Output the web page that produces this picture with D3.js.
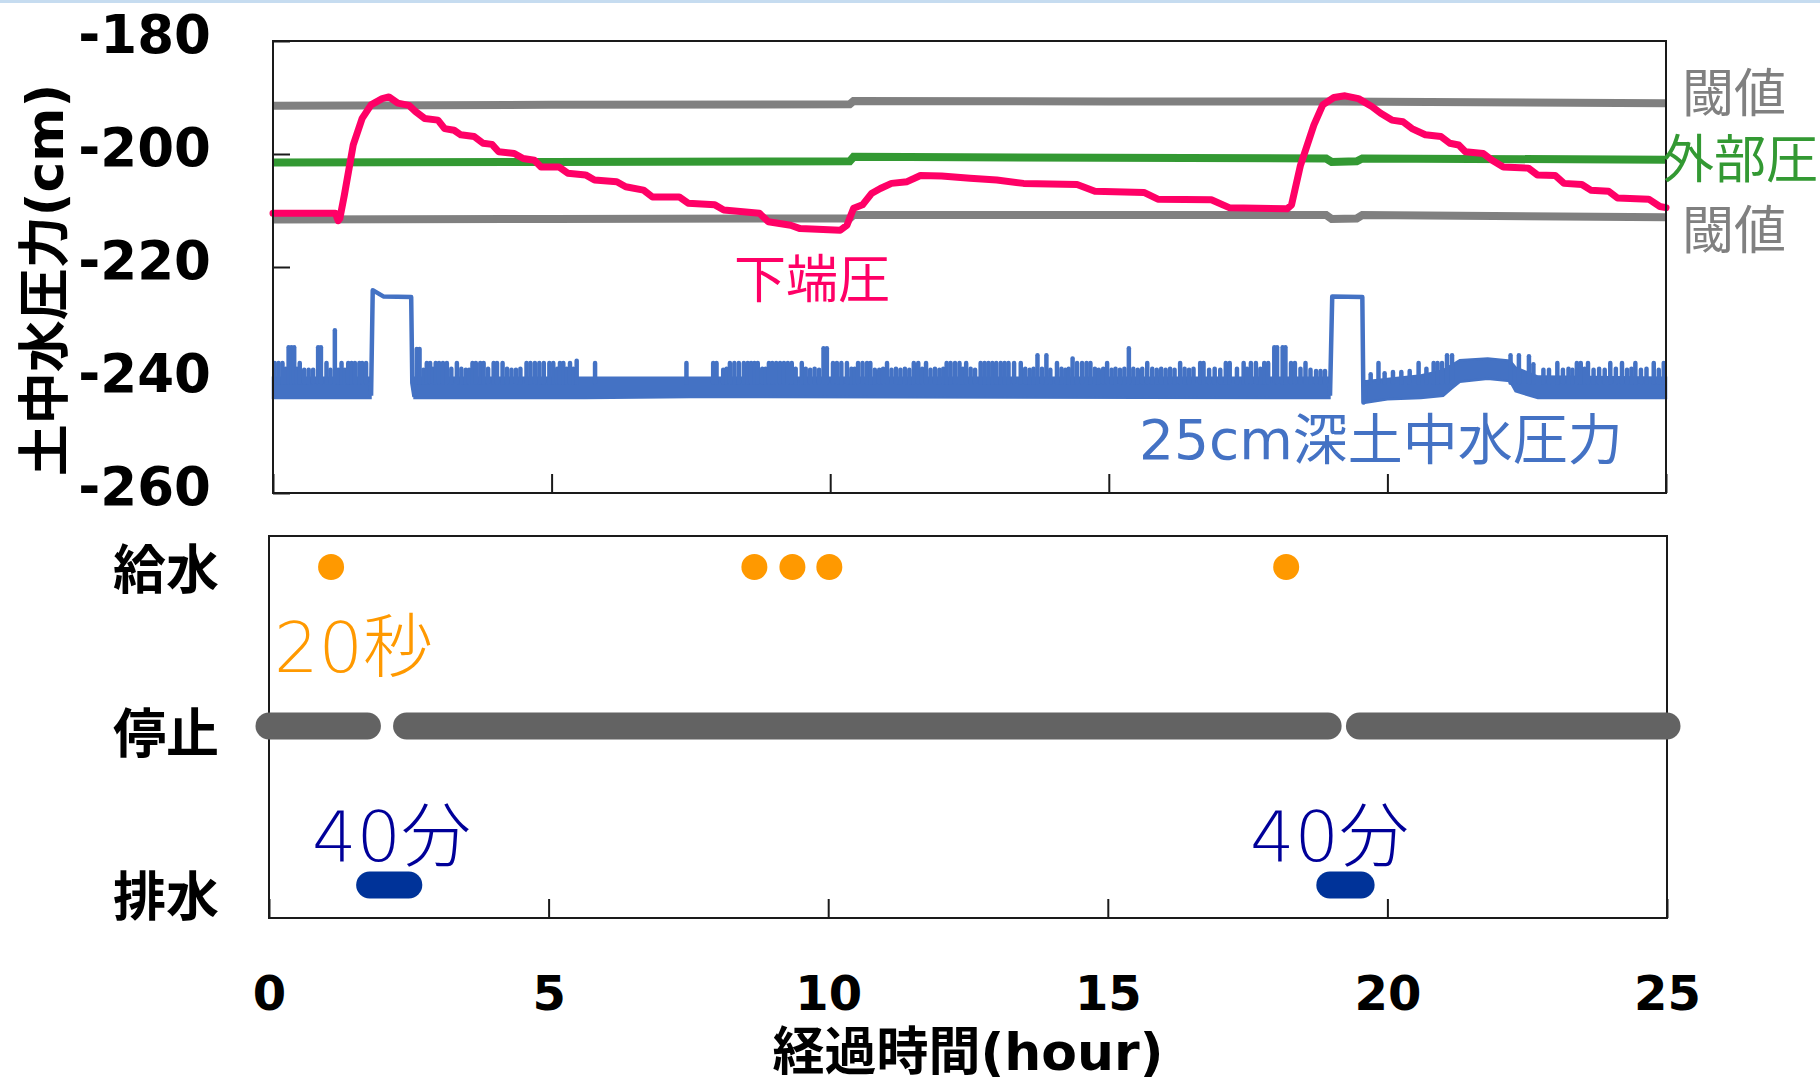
<!DOCTYPE html>
<html>
<head>
<meta charset="utf-8">
<script src="https://cdn.jsdelivr.net/npm/d3@7"></script>
<style>
  body { margin: 0; background: #fff; }
  svg { display: block; }
  text { font-family: "DejaVu Sans", "Noto Sans CJK JP", sans-serif; }
</style>
</head>
<body>
<svg id="chart" width="1820" height="1085"></svg>
<script>
// ---- data (hours, cm) ----
const yTickValues = [-260, -240, -220, -200, -180];
const yTickLabels = ["-260", "-240", "-220", "-200", "-180"];
const xTickValues = [0, 5, 10, 15, 20, 25];
const xTickLabels = ["0", "5", "10", "15", "20", "25"];
const eventRows = ["給水", "停止", "排水"];

// 閾値 (upper / lower) and 外部圧
const upperThreshold = [[0, -191.45], [5, -191.3], [10.35, -191.2], [10.42, -190.6], [15, -190.7], [19.0, -190.7], [25, -191.0]];
const lowerThreshold = [[0, -211.6], [5, -211.5], [10.35, -211.4], [10.42, -210.8], [18.9, -210.8], [19.0, -211.5], [19.45, -211.4], [19.55, -210.8], [25, -211.2]];
const outerPressure = [[0, -201.5], [5, -201.4], [10.35, -201.3], [10.42, -200.5], [18.9, -200.8], [19.0, -201.4], [19.45, -201.3], [19.55, -200.8], [25, -201.0]];

// 下端圧
const bottomPressure = [
  [0, -210.5], [1.12, -210.5], [1.17, -211.8], [1.2, -211.4], [1.28, -207.3], [1.44, -198.4], [1.6, -193.7],
  [1.76, -191.3], [1.96, -190.2], [2.08, -189.9], [2.24, -191.0], [2.44, -191.4], [2.56, -192.5], [2.72, -193.7],
  [2.96, -194.0], [3.08, -195.5], [3.25, -195.8], [3.37, -196.6], [3.61, -196.9], [3.77, -198.1], [3.93, -198.3],
  [4.05, -199.6], [4.33, -199.9], [4.49, -200.8], [4.69, -201.1], [4.81, -202.3], [5.13, -202.3], [5.29, -203.4],
  [5.61, -203.7], [5.77, -204.6], [6.17, -204.9], [6.33, -205.8], [6.65, -206.4], [6.81, -207.6], [7.29, -207.6],
  [7.45, -208.7], [7.93, -209.0], [8.09, -209.9], [8.73, -210.5], [8.89, -212.0], [9.29, -212.6], [9.46, -213.2],
  [10.18, -213.5], [10.3, -212.6], [10.42, -209.6], [10.58, -209.0], [10.74, -207.0], [10.9, -206.1], [11.1, -205.2],
  [11.38, -204.9], [11.62, -203.8], [12.0, -203.9], [12.51, -204.3], [12.99, -204.6], [13.47, -205.2], [14.43, -205.4],
  [14.75, -206.6], [15.63, -206.8], [15.88, -208.0], [16.84, -208.1], [17.16, -209.5], [18.2, -209.7], [18.28, -209.0],
  [18.44, -202.0], [18.68, -194.9], [18.84, -191.3], [19.04, -190.0], [19.24, -189.7], [19.48, -190.2], [19.72, -191.6],
  [19.88, -192.8], [20.08, -194.0], [20.28, -194.3], [20.44, -195.5], [20.68, -196.6], [20.96, -196.9], [21.12, -198.1],
  [21.28, -198.4], [21.4, -199.6], [21.72, -199.9], [21.88, -201.1], [22.08, -202.3], [22.53, -202.5], [22.69, -203.7],
  [23.01, -203.8], [23.17, -205.2], [23.49, -205.4], [23.65, -206.4], [23.97, -206.6], [24.13, -207.8], [24.69, -208.0],
  [24.89, -209.3], [25.0, -209.5]
];

// 25cm深土中水圧力: flicker band [t, top, bottom], drain steps, spikes
const soilBand = [
  [0, -239.6, -243.2], [1.75, -239.6, -243.2], [1.76, NaN, NaN],
  [2.53, NaN, NaN], [2.54, -239.6, -243.2], [5.6, -239.6, -243.2], [7.5, -239.6, -243.0], [18.96, -239.6, -243.2], [18.97, NaN, NaN],
  [19.6, NaN, NaN], [19.62, -240.2, -244.0], [20.0, -239.8, -243.4], [20.6, -239.2, -243.2], [21.0, -238.3, -242.8],
  [21.15, -237.4, -241.5], [21.3, -236.5, -240.3], [21.8, -236.2, -239.8], [22.2, -236.6, -240.2], [22.3, -237.8, -242.0],
  [22.7, -239.4, -243.2], [25, -239.6, -243.2]
];
const soilDrain1 = [[1.76, -242.8], [1.79, -224.1], [1.98, -225.2], [2.48, -225.3], [2.5, -240.5], [2.54, -243.0]];
const soilDrain2 = [[18.97, -242.8], [19.01, -225.2], [19.55, -225.3], [19.57, -244.0], [19.62, -241.0]];
const soilSpikes = [
  [0.03, -237], [0.1, -237], [0.17, -237], [0.23, -238], [0.28, -234.2], [0.33, -234.2], [0.38, -234.2], [0.43, -238],
  [0.48, -237], [0.56, -238.2], [0.64, -238.2], [0.72, -238.2], [0.81, -234.2], [0.86, -234.2], [0.96, -237], [1.03, -238.2],
  [1.11, -231.2], [1.17, -238.2], [1.23, -237], [1.29, -238.2], [1.35, -237], [1.41, -237], [1.47, -237], [1.55, -237],
  [1.6, -237], [1.67, -237],
  [2.58, -234.5], [2.63, -234.5], [2.7, -238.2], [2.76, -237], [2.82, -237], [2.87, -238], [2.92, -237], [2.98, -237],
  [3.05, -237], [3.12, -237], [3.2, -238], [3.3, -237], [3.38, -238], [3.46, -238.2], [3.52, -238.2], [3.58, -237],
  [3.64, -237], [3.72, -237], [3.78, -237], [3.86, -238], [3.96, -237], [4.02, -237], [4.12, -237], [4.2, -238],
  [4.28, -238.2], [4.36, -238.2], [4.44, -238], [4.55, -237], [4.62, -237], [4.7, -237], [4.78, -237], [4.86, -237],
  [4.96, -237], [5.03, -237], [5.1, -238], [5.15, -237], [5.21, -237], [5.27, -238], [5.33, -237], [5.39, -238],
  [5.45, -236.6], [5.78, -237], [7.42, -237], [7.9, -237], [7.96, -237], [8.08, -238.2], [8.14, -238], [8.2, -237],
  [8.28, -237], [8.36, -237], [8.45, -237], [8.52, -237], [8.58, -237], [8.64, -237], [8.7, -237], [8.78, -238],
  [8.84, -238], [8.9, -237], [8.96, -237], [9.03, -237], [9.1, -237], [9.17, -237], [9.24, -237], [9.31, -237],
  [9.38, -238], [9.49, -237], [9.56, -238], [9.64, -238.2], [9.72, -238], [9.8, -238.2], [9.88, -234.4], [9.94, -234.4],
  [10.05, -237], [10.12, -237], [10.2, -237], [10.3, -237], [10.38, -238], [10.44, -238], [10.5, -237], [10.58, -237],
  [10.66, -237], [10.72, -237], [10.8, -238.2], [10.88, -238.2], [10.95, -238], [11.02, -237], [11.1, -238.2], [11.18, -238],
  [11.26, -238.2], [11.34, -238], [11.42, -238.2], [11.5, -237], [11.58, -237], [11.65, -238], [11.72, -237], [11.8, -238.2],
  [11.88, -238], [11.96, -238.2], [12.03, -238], [12.09, -237], [12.16, -237], [12.24, -237], [12.32, -237], [12.38, -238],
  [12.44, -237], [12.52, -238], [12.6, -238.2], [12.7, -237], [12.77, -237], [12.84, -237], [12.91, -237], [12.98, -237],
  [13.06, -237], [13.13, -237], [13.2, -237], [13.3, -237], [13.42, -237], [13.5, -238], [13.58, -238.2], [13.65, -238],
  [13.72, -235.6], [13.8, -238], [13.88, -235.6], [13.95, -238.2], [14.07, -237], [14.15, -238], [14.22, -238.2], [14.28, -238],
  [14.35, -236.2], [14.43, -237], [14.52, -237], [14.6, -237], [14.67, -237], [14.75, -238], [14.82, -238.2], [14.9, -238],
  [14.97, -237], [15.05, -238.2], [15.12, -238], [15.2, -238.2], [15.28, -238], [15.36, -234.4], [15.44, -238], [15.52, -238.2],
  [15.6, -238], [15.69, -237], [15.78, -238], [15.86, -238.2], [15.94, -238], [16.02, -238.2], [16.1, -238], [16.18, -238.2],
  [16.28, -237], [16.36, -238], [16.44, -238.2], [16.52, -238], [16.64, -237], [16.7, -237], [16.8, -238.2], [16.9, -238],
  [17.0, -238.2], [17.1, -237], [17.17, -237], [17.3, -238], [17.42, -237], [17.48, -238], [17.55, -237], [17.64, -237],
  [17.72, -238], [17.79, -237], [17.86, -237], [17.97, -234.2], [18.02, -234.2], [18.12, -234.2], [18.17, -234.2], [18.27, -237],
  [18.34, -237], [18.44, -238], [18.53, -237], [18.62, -238.2], [18.72, -238.4], [18.8, -238.4], [18.88, -238.4],
  [19.7, -239], [19.84, -237], [19.95, -238.8], [20.1, -238.6], [20.25, -238.6], [20.4, -238.4], [20.56, -237], [20.7, -238],
  [20.83, -237], [20.9, -237], [20.98, -237], [21.07, -235.6], [21.16, -235.6],
  [22.21, -235.6], [22.36, -235.6], [22.54, -235.8], [22.62, -237.2], [22.8, -238.2], [22.9, -238.2], [23.05, -237],
  [23.15, -238.2], [23.25, -238], [23.32, -238.2], [23.4, -237], [23.47, -237], [23.54, -238], [23.6, -237], [23.7, -238.2],
  [23.8, -238], [23.9, -238.2], [24.0, -237], [24.1, -238], [24.21, -237], [24.3, -238.2], [24.38, -238], [24.45, -237],
  [24.55, -238.2], [24.65, -238], [24.78, -237], [24.87, -238.2], [24.96, -237]
];

// operation events
const supplyTimes = [1.11, 8.68, 9.36, 10.02, 18.19];
const stopStart = [0, 2.46, 19.5];
const stopEnd = [1.76, 18.94, 25];
const drainStart = [1.8, 18.97];
const drainEnd = [2.5, 19.53];

// ---- scales ----
const svg = d3.select("#chart");
const xTop = d3.scaleLinear().domain([0, 25]).range([273, 1666]);
const yTop = d3.scaleLinear().domain([-260, -180]).range([493, 41]);
const xBot = d3.scaleLinear().domain([0, 25]).range([269, 1667]);
const yBot = d3.scalePoint().domain(eventRows).range([567, 885]);
const yRowLabel = d3.scalePoint().domain(eventRows).range([569, 896]);

svg.append("rect").attr("x", 0).attr("y", 0).attr("width", 1820).attr("height", 3).attr("fill", "#c6dcf0");

// ---- top panel ----
const topPanel = svg.append("g");

topPanel.append("g")
  .attr("transform", "translate(273,0)")
  .call(d3.axisLeft(yTop).tickValues(yTickValues).tickSize(-17).tickPadding(62)
    .tickFormat((d, i) => yTickLabels[i]))
  .call(g => g.select(".domain").remove())
  .call(g => g.selectAll("line").attr("stroke", "#1a1a1a").attr("stroke-width", 2))
  .call(g => g.selectAll("text").attr("dy", "0.21em").attr("fill", "#000")
    .style("font-size", "53px").style("font-weight", "bold"));

topPanel.append("g")
  .attr("transform", "translate(0,493)")
  .call(d3.axisBottom(xTop).tickValues(xTickValues).tickSize(-19).tickFormat(""))
  .call(g => g.select(".domain").remove())
  .call(g => g.selectAll("line").attr("stroke", "#1a1a1a").attr("stroke-width", 2));

const line = d3.line().x(d => xTop(d[0])).y(d => yTop(d[1]));

// blue soil water pressure
const band = d3.area()
  .defined(d => !isNaN(d[1]))
  .x(d => xTop(d[0]))
  .y0(d => yTop(d[2]))
  .y1(d => yTop(d[1]));
topPanel.append("path").datum(soilBand).attr("d", band)
  .attr("fill", "#4472c4").attr("stroke", "#4472c4").attr("stroke-width", 2.5);
topPanel.selectAll(".spike").data(soilSpikes).enter().append("line")
  .attr("class", "spike")
  .attr("x1", d => xTop(d[0])).attr("x2", d => xTop(d[0]))
  .attr("y1", yTop(-240.5)).attr("y2", d => yTop(d[1]))
  .attr("stroke", "#4472c4").attr("stroke-width", 4.5).attr("stroke-linecap", "round");
[soilDrain1, soilDrain2].forEach(s => {
  topPanel.append("path").datum(s).attr("d", line)
    .attr("fill", "none").attr("stroke", "#4472c4").attr("stroke-width", 4.5)
    .attr("stroke-linejoin", "round");
});

// thresholds, outer pressure, bottom pressure
[[upperThreshold, "#808080"], [lowerThreshold, "#808080"], [outerPressure, "#339933"]].forEach(([s, c]) => {
  topPanel.append("path").datum(s).attr("d", line)
    .attr("fill", "none").attr("stroke", c).attr("stroke-width", 8);
});
topPanel.append("path").datum(bottomPressure).attr("d", line)
  .attr("fill", "none").attr("stroke", "#ff0066").attr("stroke-width", 7)
  .attr("stroke-linejoin", "round").attr("stroke-linecap", "round");

topPanel.append("rect").attr("x", 273).attr("y", 41).attr("width", 1393).attr("height", 452)
  .attr("fill", "none").attr("stroke", "#1a1a1a").attr("stroke-width", 2);

// series labels
const topLabels = [
  { t: "閾値", x: 1682, y: 112, c: "#808080" },
  { t: "外部圧", x: 1662, y: 178, c: "#339933" },
  { t: "閾値", x: 1682, y: 249, c: "#808080" },
  { t: "下端圧", x: 734, y: 298, c: "#ff0066" },
  { t: "25cm深土中水圧力", x: 1139, y: 459, c: "#4472c4" }
];
topPanel.selectAll(".lbl").data(topLabels).enter().append("text")
  .attr("x", d => d.x).attr("y", d => d.y).attr("fill", d => d.c)
  .style("font-size", d => d.t.length > 3 ? "55px" : "52px").text(d => d.t);

// y title
svg.append("text")
  .attr("transform", "translate(45,280) rotate(-90)")
  .attr("text-anchor", "middle").attr("dominant-baseline", "central")
  .style("font-size", "52px").style("font-weight", "bold")
  .text("土中水圧力(cm)");

// ---- bottom panel ----
const botPanel = svg.append("g");

botPanel.append("g")
  .attr("transform", "translate(0,918)")
  .call(d3.axisBottom(xBot).tickValues(xTickValues).tickSize(-19).tickPadding(58)
    .tickFormat((d, i) => xTickLabels[i]))
  .call(g => g.select(".domain").remove())
  .call(g => g.selectAll("line").attr("stroke", "#1a1a1a").attr("stroke-width", 2))
  .call(g => g.selectAll("text").attr("fill", "#000")
    .style("font-size", "48px").style("font-weight", "bold"));

botPanel.append("rect").attr("x", 269).attr("y", 536).attr("width", 1398).attr("height", 382)
  .attr("fill", "none").attr("stroke", "#1a1a1a").attr("stroke-width", 2);

botPanel.selectAll(".row").data(eventRows).enter().append("text")
  .attr("x", 219).attr("y", d => yRowLabel(d) + 20)
  .attr("text-anchor", "end")
  .style("font-size", "53px").style("font-weight", "bold")
  .text(d => d);

botPanel.selectAll(".stop").data(stopStart).enter().append("line")
  .attr("x1", d => xBot(d)).attr("x2", (d, i) => xBot(stopEnd[i]))
  .attr("y1", yBot("停止")).attr("y2", yBot("停止"))
  .attr("stroke", "#636363").attr("stroke-width", 27).attr("stroke-linecap", "round");

botPanel.selectAll(".drain").data(drainStart).enter().append("line")
  .attr("x1", d => xBot(d)).attr("x2", (d, i) => xBot(drainEnd[i]))
  .attr("y1", yBot("排水")).attr("y2", yBot("排水"))
  .attr("stroke", "#003399").attr("stroke-width", 27).attr("stroke-linecap", "round");

botPanel.selectAll(".supply").data(supplyTimes).enter().append("circle")
  .attr("cx", d => xBot(d)).attr("cy", yBot("給水")).attr("r", 13)
  .attr("fill", "#ff9900");

botPanel.append("text").attr("x", 274).attr("y", 672).attr("fill", "#ff9900")
  .style("font-size", "70px").style("font-weight", "300").text("20秒");
botPanel.selectAll(".dur").data([312, 1250]).enter().append("text")
  .attr("x", d => d).attr("y", 861).attr("fill", "#000099")
  .style("font-size", "70px").style("font-weight", "300").text("40分");

// x title
svg.append("text")
  .attr("x", 968).attr("y", 1070).attr("text-anchor", "middle")
  .style("font-size", "52px").style("font-weight", "bold")
  .text("経過時間(hour)");
</script>
</body>
</html>
